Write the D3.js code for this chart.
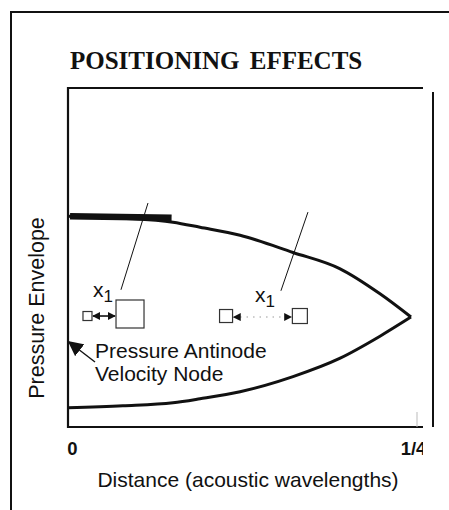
<!DOCTYPE html>
<html>
<head>
<meta charset="utf-8">
<script src="https://cdn.jsdelivr.net/npm/d3@7"></script>
<style>
  body { margin: 0; background: #fff; }
  svg { display: block; }
  .lbl { font-family: "Liberation Sans", Arial, sans-serif; fill: #111; }
</style>
</head>
<body>
<svg width="449" height="510"></svg>
<script>
// envelope (distance in wavelengths, relative pressure)
const distance = [0, 0.04, 0.0765, 0.0962, 0.1254, 0.164, 0.198, 0.2274, 0.25];
const upperEnvelope = [1.00, 0.98, 0.94, 0.89, 0.81, 0.64, 0.48, 0.23, 0];
const lowerEnvelope = [-0.90, -0.88, -0.85, -0.81, -0.74, -0.59, -0.41, -0.19, 0];

const tickValues = [0, 0.25];
const tickLabels = ["0", "1/4"];

// highlighted stretch at the antinode
const highlight = [[0.0015, 1.0], [0.0755, 0.985]];

// positioning markers: [distance, value, size]
const smallBoxes = [[0.0142, 0.01, 9], [0.1152, 0.01, 13]];
const bigBoxes = [[0.0452, 0.03, 28], [0.169, 0.01, 15]];
// thin leader lines
const leaders = [
  [[0.0583, 1.13], [0.0386, 0.27]],
  [[0.1749, 1.04], [0.1552, 0.26]]
];

const margin = {top: 88, right: 26, bottom: 83, left: 68};
const svg = d3.select("svg"),
    W = +svg.attr("width"), H = +svg.attr("height");

const x = d3.scaleLinear().domain([0, 0.25]).range([margin.left, 411]);
const y = d3.scaleLinear().domain([-1.09, 2.27]).range([H - margin.bottom, margin.top]);

const defs = svg.append("defs");
defs.append("marker")
  .attr("id", "ah").attr("viewBox", "0 0 10 10")
  .attr("refX", 9).attr("refY", 5)
  .attr("markerWidth", 8).attr("markerHeight", 8)
  .attr("markerUnits", "userSpaceOnUse")
  .attr("orient", "auto-start-reverse")
  .append("path").attr("d", "M0,0L10,5L0,10z").attr("fill", "#111");
defs.append("marker")
  .attr("id", "big").attr("viewBox", "0 0 10 10")
  .attr("refX", 9).attr("refY", 5)
  .attr("markerWidth", 15).attr("markerHeight", 15)
  .attr("markerUnits", "userSpaceOnUse")
  .attr("orient", "auto")
  .append("path").attr("d", "M0,0L10,5L0,10z").attr("fill", "#111");
defs.append("clipPath").attr("id", "clip")
  .append("rect").attr("x", 0).attr("y", 0).attr("width", 423).attr("height", H);

// outer frame
svg.append("path").attr("d", `M11,${H}V12H${W}`)
  .attr("fill", "none").attr("stroke", "#111").attr("stroke-width", 2);

svg.append("text")
  .attr("x", 70).attr("y", 69)
  .attr("font-family", "'Liberation Serif', 'Times New Roman', serif")
  .attr("font-weight", "bold").attr("font-size", 25)
  .attr("word-spacing", 4)
  .attr("fill", "#111")
  .text("POSITIONING EFFECTS");

// plot frame
const x0 = margin.left, xR = 423, yT = margin.top, yB = H - margin.bottom;
svg.append("path").attr("d", `M${xR},${yT}H${x0}V${yB}H${xR}`)
  .attr("fill", "none").attr("stroke", "#111").attr("stroke-width", 2.2);
svg.append("line").attr("x1", 433).attr("x2", 433).attr("y1", 92).attr("y2", yB)
  .attr("stroke", "#111").attr("stroke-width", 2);
svg.append("line").attr("x1", 417).attr("x2", 417).attr("y1", yB - 15).attr("y2", yB)
  .attr("stroke", "#bbb").attr("stroke-width", 1);

// envelope
const line = d3.line().x(d => x(d[0])).y(d => y(d[1])).curve(d3.curveMonotoneX);
svg.append("path").datum(distance.map((d, i) => [d, upperEnvelope[i]]))
  .attr("d", line).attr("fill", "none").attr("stroke", "#111").attr("stroke-width", 3);
svg.append("path").datum(distance.map((d, i) => [d, lowerEnvelope[i]]))
  .attr("d", line).attr("fill", "none").attr("stroke", "#111").attr("stroke-width", 3);

svg.append("path").datum(highlight)
  .attr("d", d3.line().x(d => x(d[0])).y(d => y(d[1])))
  .attr("stroke", "#111").attr("stroke-width", 6.5);

svg.selectAll(".leader").data(leaders).enter().append("line")
  .attr("x1", d => x(d[0][0])).attr("y1", d => y(d[0][1]))
  .attr("x2", d => x(d[1][0])).attr("y2", d => y(d[1][1]))
  .attr("stroke", "#111").attr("stroke-width", 1);

const boxes = smallBoxes.concat(bigBoxes);
svg.selectAll(".box").data(boxes).enter().append("rect")
  .attr("x", d => x(d[0]) - d[2] / 2).attr("y", d => y(d[1]) - d[2] / 2)
  .attr("width", d => d[2]).attr("height", d => d[2])
  .attr("fill", "#fff").attr("stroke", "#333").attr("stroke-width", 1.2);

// spacing arrows between each pair
smallBoxes.forEach((s, i) => {
  const b = bigBoxes[i];
  const ya = (y(s[1]) + y(b[1])) / 2 + 1;
  svg.append("line")
    .attr("x1", x(s[0]) + s[2] / 2 + 1).attr("x2", x(b[0]) - b[2] / 2 - 1)
    .attr("y1", ya).attr("y2", ya)
    .attr("stroke", i ? "#999" : "#111")
    .attr("stroke-width", i ? 1.2 : 1.6)
    .attr("stroke-dasharray", i ? "1.5 5" : null)
    .attr("marker-start", "url(#ah)").attr("marker-end", "url(#ah)");
  const lx = i ? 255 : 93;
  const t = svg.append("text").attr("class", "lbl")
    .attr("x", lx).attr("y", ya - (i ? 15 : 19))
    .attr("font-size", 21);
  t.append("tspan").text("x");
  t.append("tspan").attr("dy", 5).attr("font-size", 17).text("1");
});

// antinode note
svg.append("line").attr("x1", 95).attr("y1", 362).attr("x2", x0 + 1).attr("y2", 342)
  .attr("stroke", "#111").attr("stroke-width", 1.4).attr("marker-end", "url(#big)");
svg.append("text").attr("class", "lbl").attr("x", 95).attr("y", 358)
  .attr("font-size", 21).text("Pressure Antinode");
svg.append("text").attr("class", "lbl").attr("x", 95).attr("y", 381)
  .attr("font-size", 21).text("Velocity Node");

// x axis ticks
const gx = svg.append("g")
  .attr("transform", `translate(0,${yB})`)
  .attr("clip-path", "url(#clip)")
  .call(d3.axisBottom(x).tickValues(tickValues).tickFormat((d, i) => tickLabels[i]).tickSize(0).tickPadding(15));
gx.select(".domain").remove();
gx.selectAll("text")
  .attr("font-family", "'Liberation Sans', Arial, sans-serif")
  .attr("font-size", 18.5).attr("font-weight", "bold").attr("fill", "#111")
  .attr("dx", (d, i) => i ? 2 : 4);

svg.append("text").attr("class", "lbl")
  .attr("x", 248).attr("y", 487).attr("text-anchor", "middle")
  .attr("font-size", 21).text("Distance (acoustic wavelengths)");

svg.append("text").attr("class", "lbl")
  .attr("transform", `translate(44,308) rotate(-90)`)
  .attr("text-anchor", "middle")
  .attr("font-size", 21.5).text("Pressure Envelope");
</script>
</body>
</html>
